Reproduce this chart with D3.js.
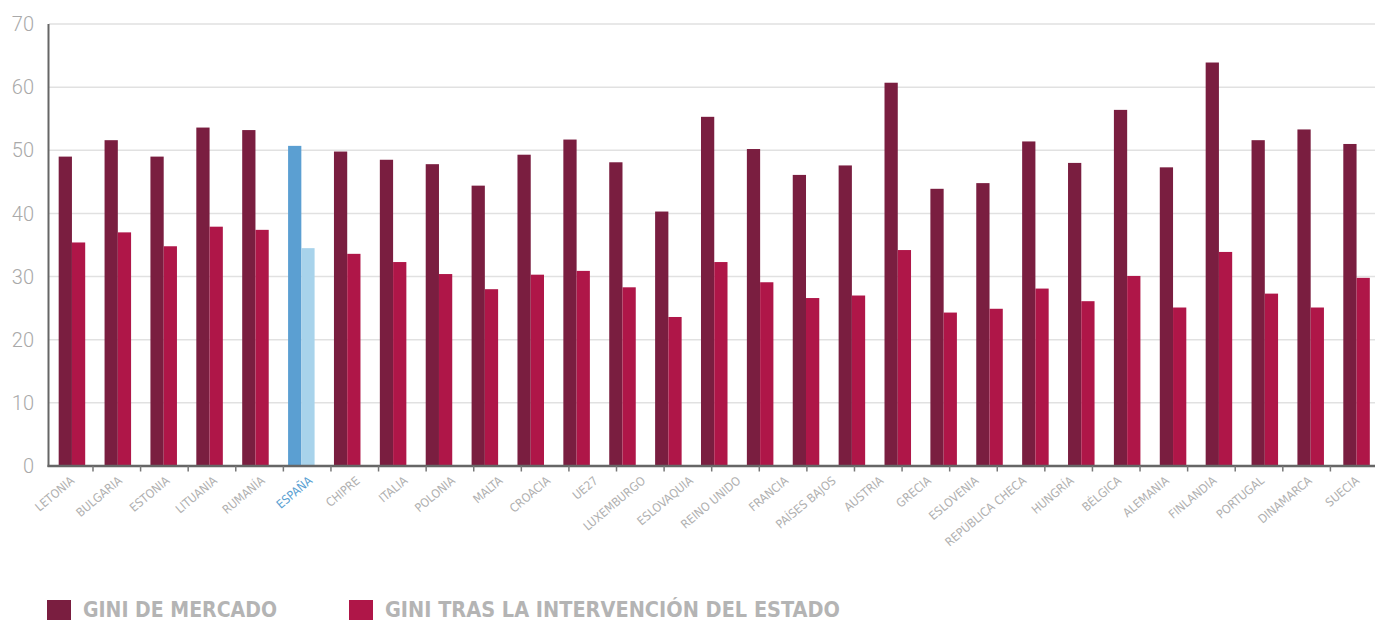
<!DOCTYPE html>
<meta charset="utf-8">
<script src="https://d3js.org/d3.v7.min.js"></script>
<style>
  body { margin: 0; background: #fff; }
  svg { display: block; }
</style>
<div id="chart"></div>
<script>

// country labels under the axis (28 of them)
var labels = ["LETONIA", "BULGARIA", "ESTONIA", "LITUANIA", "RUMANÍA", "ESPAÑA", "CHIPRE",
  "ITALIA", "POLONIA", "MALTA", "CROACIA", "UE27", "LUXEMBURGO", "ESLOVAQUIA",
  "REINO UNIDO", "FRANCIA", "PAÍSES BAJOS", "AUSTRIA", "GRECIA", "ESLOVENIA",
  "REPÚBLICA CHECA", "HUNGRÍA", "BÉLGICA", "ALEMANIA", "FINLANDIA", "PORTUGAL",
  "DINAMARCA", "SUECIA"];

// bar values as drawn (29 pairs)
var giniMercado = [49.0, 51.6, 49.0, 53.6, 53.2, 50.7, 49.8, 48.5, 47.8, 44.4,
  49.3, 51.7, 48.1, 40.3, 55.3, 50.2, 46.1, 47.6, 60.7, 43.9,
  44.8, 51.4, 48.0, 56.4, 47.3, 63.9, 51.6, 53.3, 51.0];
var giniEstado = [35.4, 37.0, 34.8, 37.9, 37.4, 34.5, 33.6, 32.3, 30.4, 28.0,
  30.3, 30.9, 28.3, 23.6, 32.3, 29.1, 26.6, 27.0, 34.2, 24.3,
  24.9, 28.1, 26.1, 30.1, 25.1, 33.9, 27.3, 25.1, 29.8];

var yTicks = [0, 10, 20, 30, 40, 50, 60, 70];
var series = ["GINI DE MERCADO", "GINI TRAS LA INTERVENCIÓN DEL ESTADO"];
var highlight = "ESPAÑA";

var W = 1375, H = 622;
var colors = ["#7a1e40", "#af1648"];
var blues = ["#5b9fd2", "#a8d3eb"];

var svg = d3.select("#chart").append("svg")
  .attr("width", W)
  .attr("height", H);

var y = d3.scaleLinear().domain([0, 70]).range([466, 24]);

// bars and labels sit on two different band scales
var xb = d3.scaleBand()
  .domain(d3.range(giniMercado.length))
  .range([49, 1379.5])
  .paddingInner(0.422)
  .paddingOuter(0.211);
var xs = d3.scaleBand().domain([0, 1]).range([0, xb.bandwidth()]);
var xl = d3.scaleBand().domain(labels).range([45.4, 1378]);

var hi = labels.indexOf(highlight);

// gridlines
svg.append("g")
  .selectAll("line")
  .data(yTicks.slice(1))
  .join("line")
    .attr("x1", 49)
    .attr("x2", W)
    .attr("y1", d => y(d))
    .attr("y2", d => y(d))
    .attr("stroke", "#e1e1e1")
    .attr("stroke-width", 1.5);

// y tick labels
svg.append("g")
  .selectAll("text")
  .data(yTicks)
  .join("text")
    .attr("x", 34)
    .attr("y", d => y(d))
    .attr("dy", "0.36em")
    .attr("text-anchor", "end")
    .attr("font-family", "Roboto, sans-serif")
    .attr("font-weight", 300)
    .attr("font-size", "20px")
    .attr("fill", "#a9a9a9")
    .text(d => d);

// bars
var pairs = svg.append("g")
  .selectAll("g")
  .data(giniMercado.map((v, i) => ({ i: i, vals: [v, giniEstado[i]] })))
  .join("g")
    .attr("transform", d => "translate(" + xb(d.i) + ",0)");

pairs.selectAll("rect")
  .data(d => d.vals.map((v, k) => ({ k: k, v: v, hi: d.i === hi })))
  .join("rect")
    .attr("x", d => xs(d.k))
    .attr("width", xs.bandwidth())
    .attr("y", d => y(d.v))
    .attr("height", d => y(0) - y(d.v))
    .attr("fill", d => d.hi ? blues[d.k] : colors[d.k]);

// axes lines
svg.append("line")
  .attr("x1", 48.5).attr("x2", 48.5)
  .attr("y1", 24).attr("y2", 467)
  .attr("stroke", "#666").attr("stroke-width", 2);
svg.append("line")
  .attr("x1", 47.5).attr("x2", W)
  .attr("y1", 466).attr("y2", 466)
  .attr("stroke", "#666").attr("stroke-width", 2.5);

// tick marks between labels
svg.append("g")
  .selectAll("line")
  .data(labels.slice(1))
  .join("line")
    .attr("x1", d => xl(d))
    .attr("x2", d => xl(d))
    .attr("y1", 466)
    .attr("y2", 471.5)
    .attr("stroke", "#777")
    .attr("stroke-width", 1.5);

// x labels
svg.append("g")
  .selectAll("text")
  .data(labels)
  .join("text")
    .attr("transform", d => "translate(" + (xl(d) + xl.bandwidth() / 2 + 6) + ",482) rotate(-40)")
    .attr("text-anchor", "end")
    .attr("font-family", "'DejaVu Sans Condensed', 'DejaVu Sans', sans-serif")
    .attr("font-size", "12px")
    .attr("fill", d => d === highlight ? "#5b9fd2" : "#b0b0b0")
    .text(d => d);

// legend
var legX = [47, 349];
var legW = [194, 455];
var leg = svg.append("g")
  .selectAll("g")
  .data(series)
  .join("g")
    .attr("transform", (d, i) => "translate(" + legX[i] + ",0)");

leg.append("rect")
  .attr("x", 0)
  .attr("y", 600)
  .attr("width", 24)
  .attr("height", 20)
  .attr("fill", (d, i) => colors[i]);

leg.append("text")
  .attr("x", 36)
  .attr("y", 616.5)
  .attr("font-family", "'DejaVu Sans Condensed', 'DejaVu Sans', sans-serif")
  .attr("font-weight", "bold")
  .attr("font-size", "22px")
  .attr("fill", "#b4b4b4")
  .attr("textLength", (d, i) => legW[i])
  .attr("lengthAdjust", "spacingAndGlyphs")
  .text(d => d);

</script>
